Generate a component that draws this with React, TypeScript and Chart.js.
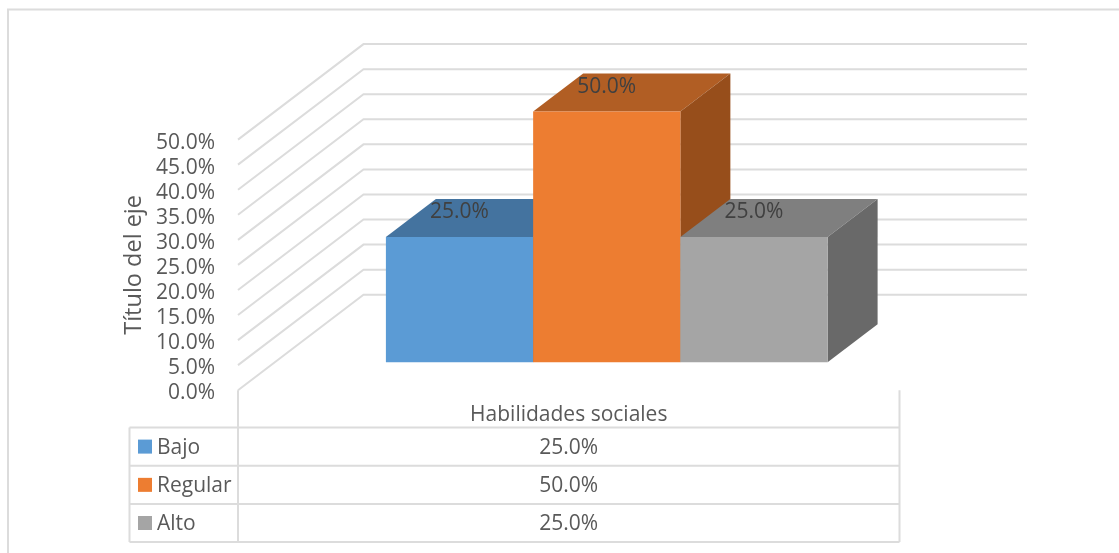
import React, { useEffect, useRef } from "react";
import { Chart, registerables } from "chart.js";

Chart.register(...registerables);

const categories = ["Habilidades sociales"];
const seriesNames = ["Bajo", "Regular", "Alto"];
const bajoValues = [25];
const regularValues = [50];
const altoValues = [25];
const seriesColors = ["#5B9BD5", "#ED7D31", "#A5A5A5"];
const topColors = ["#44739F", "#B15E24", "#7F7F7F"];
const sideColors = ["#386084", "#974E1B", "#696969"];

const FONT = '"Open Sans", sans-serif';
const TEXT = "#595959";
const GRID = "#DCDCDC";
const fmt = (v: number) => v.toFixed(1) + "%";

const plotLeft = 238;
const plotRight = 899.5;
const plotTop = 139.6;
const plotBottom = 390.2;
const wallDx = 125.5;
const wallDy = 95.5;
const wallRight = 1027;
const barDx = 38;
const barDy = 28;
const depthDx = 50;
const depthDy = 38;
const tableLeft = 129.5;
const rowLines = [427.5, 465.7, 504, 542];
const axisLeft = 120;

const wallsPlugin = {
  id: "walls",
  beforeDatasetsDraw(chart: any) {
    const { ctx, scales } = chart;
    const y = scales.y;
    ctx.save();
    ctx.strokeStyle = GRID;
    ctx.lineWidth = 2;
    y.ticks.forEach((t: any) => {
      const py = y.getPixelForValue(t.value);
      ctx.beginPath();
      ctx.moveTo(plotLeft, py);
      ctx.lineTo(plotLeft + wallDx, py - wallDy);
      ctx.lineTo(wallRight, py - wallDy);
      ctx.stroke();
    });
    ctx.restore();
    // bars: painted left to right so that each one sits over its left neighbour's side
    chart.data.datasets.forEach((_: any, i: number) => {
      const meta = chart.getDatasetMeta(i);
      ctx.save();
      ctx.translate(barDx, -barDy);
      meta.data.forEach((bar: any) => {
        const l = bar.x - bar.width / 2;
        const r = bar.x + bar.width / 2;
        const t = bar.y;
        const b = bar.base;
        ctx.fillStyle = topColors[i];
        ctx.beginPath();
        ctx.moveTo(l, t);
        ctx.lineTo(l + depthDx, t - depthDy);
        ctx.lineTo(r + depthDx, t - depthDy);
        ctx.lineTo(r, t);
        ctx.closePath();
        ctx.fill();
        ctx.fillStyle = sideColors[i];
        ctx.beginPath();
        ctx.moveTo(r, t);
        ctx.lineTo(r + depthDx, t - depthDy);
        ctx.lineTo(r + depthDx, b - depthDy);
        ctx.lineTo(r, b);
        ctx.closePath();
        ctx.fill();
      });
      meta.controller.draw();
      ctx.restore();
    });
  },
  beforeDatasetDraw() {
    return false;
  },
  afterDatasetsDraw(chart: any) {
    const { ctx } = chart;
    ctx.save();
    ctx.font = `21px ${FONT}`;
    ctx.fillStyle = "#404040";
    ctx.textAlign = "center";
    ctx.textBaseline = "middle";
    chart.data.datasets.forEach((ds: any, i: number) => {
      const bar = chart.getDatasetMeta(i).data[0];
      ctx.fillText(fmt(ds.data[0]), bar.x + barDx, bar.y - barDy - 25);
    });
    ctx.restore();
  },
  afterDraw(chart: any) {
    const { ctx } = chart;
    ctx.save();
    ctx.strokeStyle = GRID;
    ctx.lineWidth = 2;
    ctx.beginPath();
    ctx.moveTo(8, 553);
    ctx.lineTo(8, 9.5);
    ctx.lineTo(1119, 9.5);
    ctx.stroke();
    ctx.beginPath();
    ctx.moveTo(plotLeft, plotBottom);
    ctx.lineTo(plotLeft, rowLines[3]);
    ctx.moveTo(plotRight, plotBottom);
    ctx.lineTo(plotRight, rowLines[3]);
    ctx.moveTo(tableLeft, rowLines[0]);
    ctx.lineTo(tableLeft, rowLines[3]);
    rowLines.forEach((ly) => {
      ctx.moveTo(tableLeft, ly);
      ctx.lineTo(plotRight, ly);
    });
    ctx.stroke();
    ctx.font = `21px ${FONT}`;
    ctx.textBaseline = "middle";
    chart.data.datasets.forEach((ds: any, i: number) => {
      const cy = (rowLines[i] + rowLines[i + 1]) / 2;
      ctx.fillStyle = seriesColors[i];
      ctx.fillRect(138, cy - 7, 14, 14);
      ctx.fillStyle = TEXT;
      ctx.textAlign = "left";
      ctx.fillText(seriesNames[i], 157, cy + 1);
      ctx.textAlign = "center";
      ctx.fillText(fmt(ds.data[0]), (plotLeft + plotRight) / 2, cy + 1);
    });
    ctx.restore();
  },
};

const makeDataset = (i: number, data: number[]) => ({
  label: seriesNames[i],
  data,
  backgroundColor: seriesColors[i],
  borderWidth: 0,
  categoryPercentage: 441.7 / 661.5,
  barPercentage: 1,
});

export default function App() {
  const ref = useRef<HTMLCanvasElement>(null);
  useEffect(() => {
    const chart = new Chart(ref.current!, {
      type: "bar",
      plugins: [wallsPlugin],
      data: {
        labels: categories,
        datasets: [
          makeDataset(0, bajoValues),
          makeDataset(1, regularValues),
          makeDataset(2, altoValues),
        ],
      },
      options: {
        responsive: false,
        animation: false,
        devicePixelRatio: 1,
        layout: {
          padding: {
            left: axisLeft,
            top: plotTop,
            right: 1119 - plotRight,
            bottom: 0,
          },
        },
        plugins: {
          legend: { display: false },
          title: { display: false },
          tooltip: { enabled: false },
        },
        scales: {
          x: {
            grid: { display: false },
            border: { display: false },
            afterFit: (s: any) => {
              s.height = 553 - plotBottom;
            },
            ticks: {
              color: TEXT,
              padding: 4,
              font: { family: FONT, size: 21 },
            },
          },
          y: {
            min: 0,
            max: 50,
            afterFit: (s: any) => {
              s.width = plotLeft - axisLeft;
            },
            grid: { display: false },
            border: { display: false },
            title: {
              display: true,
              text: "Título del eje",
              color: TEXT,
              padding: 0,
              font: { family: FONT, size: 23.5, weight: "normal" },
            },
            ticks: {
              stepSize: 5,
              autoSkip: false,
              color: TEXT,
              padding: 15,
              labelOffset: 3,
              font: { family: FONT, size: 21 },
              callback: (v: any) => fmt(Number(v)),
            },
          },
        },
      },
    } as any);
    return () => chart.destroy();
  }, []);
  return (
    <div style={{ position: "absolute", left: 0, top: 0, width: 1119, height: 553, overflow: "hidden", background: "#fff" }}>
      <canvas ref={ref} width={1119} height={553} style={{ display: "block" }} />
    </div>
  );
}
